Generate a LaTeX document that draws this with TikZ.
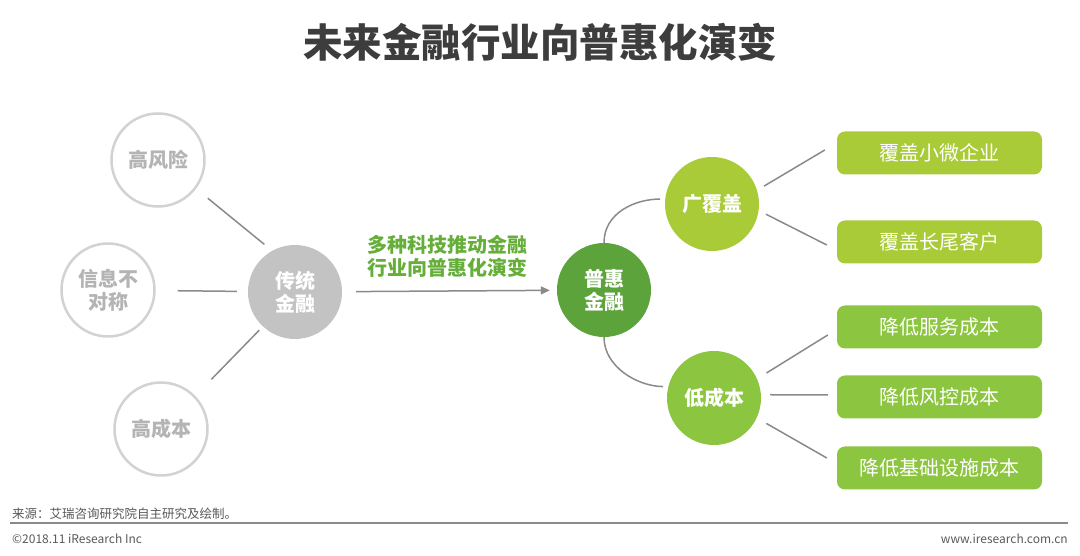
\documentclass[tikz,border=0pt]{standalone}
\usepackage{fontspec}
\setmainfont{Noto Sans CJK SC}
\usetikzlibrary{arrows.meta}

\definecolor{titlegray}{HTML}{3D3D3D}
\definecolor{ringgray}{HTML}{D2D2D2}
\definecolor{riskgray}{HTML}{B4B4B4}
\definecolor{oldgray}{HTML}{C3C3C3}
\definecolor{linegray}{HTML}{8A8A8A}
\definecolor{darkgreen}{HTML}{5DA33B}
\definecolor{labelgreen}{HTML}{66AE3A}
\definecolor{limegreen}{HTML}{A9CB37}
\definecolor{midgreen}{HTML}{8CC53F}
\definecolor{footgray}{HTML}{595959}

\begin{document}
\begin{tikzpicture}[x=1pt, y=1pt,
    riskcircle/.style={circle, draw=ringgray, line width=2.5pt, minimum size=93pt, inner sep=0pt,
        text=riskgray, font=\fontsize{20}{23}\selectfont\bfseries, align=center},
    bigcircle/.style={circle, minimum size=94pt, inner sep=0pt, text=white,
        font=\fontsize{20}{23}\selectfont\bfseries, align=center},
    leafbox/.style={rounded corners=8pt, minimum width=205pt, minimum height=43pt, inner sep=0pt,
        text=white, font=\fontsize{20}{24}\selectfont},
    link/.style={draw=linegray, line width=1.5pt},
]
    \useasboundingbox (0,0) rectangle (1080,556);

    % Title
    \node[font=\fontsize{39.5}{44}\selectfont\bfseries, text=titlegray] (title) at (540,514) {未来金融行业向普惠化演变};

    % Traditional finance
    \node[riskcircle] (risk) at (158,396) {高风险};
    \node[riskcircle] (info) at (108,266) {信息不\\对称};
    \node[riskcircle] (cost) at (161,127) {高成本};
    \node[bigcircle, fill=oldgray] (oldfin) at (295,264) {传统\\金融};

    \draw[link, shorten <=15pt, shorten >=10pt] (risk.-37) -- (oldfin.119);
    \draw[link, shorten <=22pt, shorten >=11pt] (info) -- (oldfin);
    \draw[link, shorten <=23pt, shorten >=5pt] (cost.44) -- (oldfin.227);

    % Inclusive finance
    \node[bigcircle, fill=darkgreen] (newfin) at (604,266) {普惠\\金融};
    \node[font=\fontsize{20}{23}\selectfont\bfseries, text=labelgreen, align=center] (trend) at (447,300)
        {多种科技推动金融\\行业向普惠化演变};
    \draw[link, -{Triangle[length=9pt, width=8pt]}, shorten <=14pt, shorten >=7pt] (oldfin) -- (newfin);

    \node[bigcircle, fill=limegreen] (wide) at (712,352) {广覆盖};
    \node[bigcircle, fill=midgreen] (cheap) at (714,158) {低成本};
    \draw[link, shorten >=5pt] (newfin.north) .. controls +(0,30) and +(-30,0) .. (wide.174);
    \draw[link, shorten >=5pt] (newfin.south) .. controls +(0,-30) and +(-30,0) .. (cheap.166);

    % Leaves
    \node[leafbox, fill=limegreen] (smallbiz) at (939.5,403) {覆盖小微企业};
    \node[leafbox, fill=limegreen] (longtail) at (939.5,314) {覆盖长尾客户};
    \node[leafbox, fill=midgreen] (service) at (939.5,229) {降低服务成本};
    \node[leafbox, fill=midgreen] (riskctl) at (939.5,159) {降低风控成本};
    \node[leafbox, fill=midgreen] (infra) at (939.5,88) {降低基础设施成本};

    \draw[link, shorten <=8pt] (wide.17) -- ([xshift=-12pt, yshift=3pt]smallbiz.west);
    \draw[link, shorten <=8pt] (wide.-8) -- ([xshift=-10pt, yshift=-3pt]longtail.west);
    \draw[link, shorten <=11pt] (cheap.24) -- ([xshift=-9pt, yshift=-8pt]service.west);
    \draw[link, shorten <=9pt] (cheap.4) -- ([xshift=-9pt, yshift=2pt]riskctl.west);
    \draw[link, shorten <=11pt] (cheap.-25) -- ([xshift=-10pt, yshift=10pt]infra.west);

    % Footer
    \node[anchor=west, inner sep=0pt, font=\fontsize{12.5}{14}\selectfont, text=footgray] (source) at (12,42)
        {来源：艾瑞咨询研究院自主研究及绘制。};
    \draw[draw=linegray, line width=1.5pt] (10,33) -- (1068,33);
    \node[anchor=west, inner sep=0pt, font=\fontsize{12}{14}\selectfont, text=footgray] (copy) at (12,17)
        {©2018.11 iResearch Inc};
    \node[anchor=east, inner sep=0pt, font=\fontsize{12}{14}\selectfont, text=footgray] (site) at (1068,17)
        {www.iresearch.com.cn};
\end{tikzpicture}
\end{document}
